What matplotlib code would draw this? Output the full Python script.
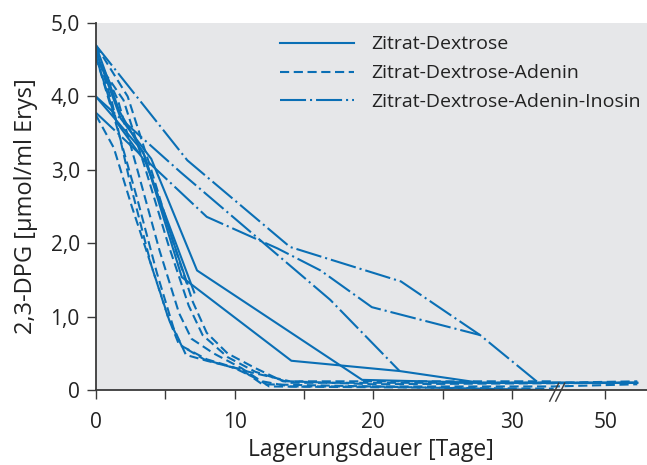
import matplotlib
matplotlib.use('Agg')
import matplotlib.pyplot as plt
import numpy as np

plt.rcParams['font.family'] = ['Open Sans', 'DejaVu Sans']

# Lagerungsdauer (Tage) / 2,3-DPG (µmol/ml Erys)
# Zitrat-Dextrose
s1_t = [0, 1.7, 3.5, 6.2, 14.1, 21.9, 27.7, 52.3]
s1_v = [4.70, 3.80, 3.20, 1.54, 0.40, 0.26, 0.10, 0.10]
s2_t = [0, 1.8, 4.0, 7.3, 19.2, 28.0, 52.3]
s2_v = [4.62, 3.70, 3.15, 1.63, 0.14, 0.10, 0.10]
s3_t = [0, 1.5, 3.6, 7.1]
s3_v = [4.55, 3.65, 3.10, 1.33]
s4_t = [0, 3.4, 6.6]
s4_v = [4.00, 3.25, 1.45]

# Zitrat-Dextrose-Adenin
d1_t = [0, 1.2, 2.5, 4.0, 5.3, 6.2, 7.8, 10, 12, 14, 33, 52.3]
d1_v = [4.65, 3.90, 2.80, 1.70, 0.95, 0.60, 0.42, 0.30, 0.12, 0.05, 0.05, 0.08]
d2_t = [0, 1.6, 3.0, 4.6, 6.0, 6.9, 8.5, 10.5, 12.5, 33]
d2_v = [4.60, 3.95, 3.00, 1.90, 1.05, 0.70, 0.50, 0.30, 0.05, 0.02]
d3_t = [0, 2.0, 3.6, 5.2, 6.7, 7.7, 9.5, 11.5, 14, 33, 52.3]
d3_v = [4.50, 3.95, 3.00, 2.00, 1.15, 0.75, 0.45, 0.25, 0.10, 0.10, 0.12]
d4_t = [0, 1.3, 2.6, 4.0, 5.2, 6.0, 8, 11, 14, 20, 52.3]
d4_v = [3.75, 3.30, 2.50, 1.70, 1.00, 0.62, 0.42, 0.25, 0.12, 0.08, 0.10]
d5_t = [0, 2.3, 4.0, 5.6, 7.0, 8.0, 9.5, 11.5, 13.5, 20, 33]
d5_v = [4.70, 4.00, 3.00, 2.00, 1.20, 0.78, 0.50, 0.30, 0.12, 0.12, 0.12]
d6_t = [0, 1.5, 3.0, 4.4, 5.6, 6.5, 8, 10.5, 12, 33]
d6_v = [4.55, 3.60, 2.60, 1.60, 0.85, 0.48, 0.40, 0.28, 0.08, 0.00]

# Zitrat-Dextrose-Adenin-Inosin
i1_t = [0, 6.6, 14.0, 22.0, 27.7, 31.9, 52.3]
i1_v = [4.70, 3.13, 1.95, 1.48, 0.75, 0.10, 0.10]
i2_t = [0, 6.1, 11.0, 16.9, 21.9]
i2_v = [4.00, 2.97, 2.18, 1.23, 0.26]
i3_t = [0, 8.0, 13.1, 16.2, 19.9, 27.7]
i3_v = [3.78, 2.36, 1.93, 1.63, 1.13, 0.75]

x_ticks = [0, 10, 20, 30, 50]
x_minor = [5, 15, 25]
y_ticks = [0, 1, 2, 3, 4, 5]
y_labels = ['0', '1,0', '2,0', '3,0', '4,0', '5,0']

# Achsenbruch zwischen ~33 und ~46,5 Tagen
brk_a, brk_b = 33.26, 46.54
xmax = 53.0
fx = [-100, brk_a, brk_b, 200]
fu = [-100, brk_a, brk_a + 0.01, 200 - (brk_b - brk_a) + 0.01]

def forward(x):
    return np.interp(x, fx, fu)

def inverse(u):
    return np.interp(u, fu, fx)

blue = '#0a6fb5'
grey = '#3a3a3a'
txt = '#222222'
lw = 1.5
dash = (4.4, 2.2)
dashdot = (12.5, 1.9, 1.0, 1.9)

fig = plt.figure(figsize=(6.47, 4.65), dpi=100)
ax = fig.add_axes([0.148, 0.161, 0.852, 0.7895])
ax.set_facecolor('#e6e7e9')
ax.set_xscale('function', functions=(forward, inverse))

l1, = ax.plot(s1_t, s1_v, color=blue, lw=lw, label='Zitrat-Dextrose')
for t, v in [(s2_t, s2_v), (s3_t, s3_v), (s4_t, s4_v)]:
    ax.plot(t, v, color=blue, lw=lw)

l2, = ax.plot(d1_t, d1_v, color=blue, lw=lw, dashes=dash, label='Zitrat-Dextrose-Adenin')
for t, v in [(d2_t, d2_v), (d3_t, d3_v), (d4_t, d4_v), (d5_t, d5_v), (d6_t, d6_v)]:
    ax.plot(t, v, color=blue, lw=lw, dashes=dash)

l3, = ax.plot(i1_t, i1_v, color=blue, lw=lw, dashes=dashdot, label='Zitrat-Dextrose-Adenin-Inosin')
for t, v in [(i2_t, i2_v), (i3_t, i3_v)]:
    ax.plot(t, v, color=blue, lw=lw, dashes=dashdot)

ax.set_xlim(0, xmax)
ax.set_ylim(0, 5)
ax.set_xticks(x_ticks)
ax.set_xticklabels([str(x) for x in x_ticks])
ax.set_xticks(x_minor, minor=True)
ax.set_yticks(y_ticks)
ax.set_yticklabels(y_labels)

for s in ['top', 'right']:
    ax.spines[s].set_visible(False)
for s in ['left', 'bottom']:
    ax.spines[s].set_color(grey)
    ax.spines[s].set_linewidth(1.3)
ax.tick_params(which='both', direction='out', length=6.5, width=1.0, color=grey,
               labelsize=15, labelcolor=txt)
ax.tick_params(axis='x', which='both', pad=9)
ax.tick_params(axis='y', pad=5)

# Bruchzeichen //  (in Achsenkoordinaten)
xb = forward(brk_a) / forward(xmax)
px_x = 1 / 551.0
px_y = 1 / 367.0
for off in [-3, 3]:
    x0 = xb + (off - 4.5) * px_x
    x1 = xb + (off + 4.5) * px_x
    ax.plot([x0, x1], [-11 * px_y, 7 * px_y], color=grey, lw=1.0,
            transform=ax.transAxes, clip_on=False)

ax.set_xlabel('Lagerungsdauer [Tage]', fontsize=16.5, color=txt, labelpad=4)
ax.set_ylabel('2,3-DPG [µmol/ml Erys]', fontsize=17, color=txt, labelpad=9)

leg = ax.legend(handles=[l1, l2, l3], loc='upper left', bbox_to_anchor=(0.334, 0.966),
                frameon=False, fontsize=14, handlelength=3.8, handletextpad=0.9,
                labelspacing=0.56, borderpad=0, borderaxespad=0, labelcolor=txt)

fig.savefig('out.png', dpi=100)
